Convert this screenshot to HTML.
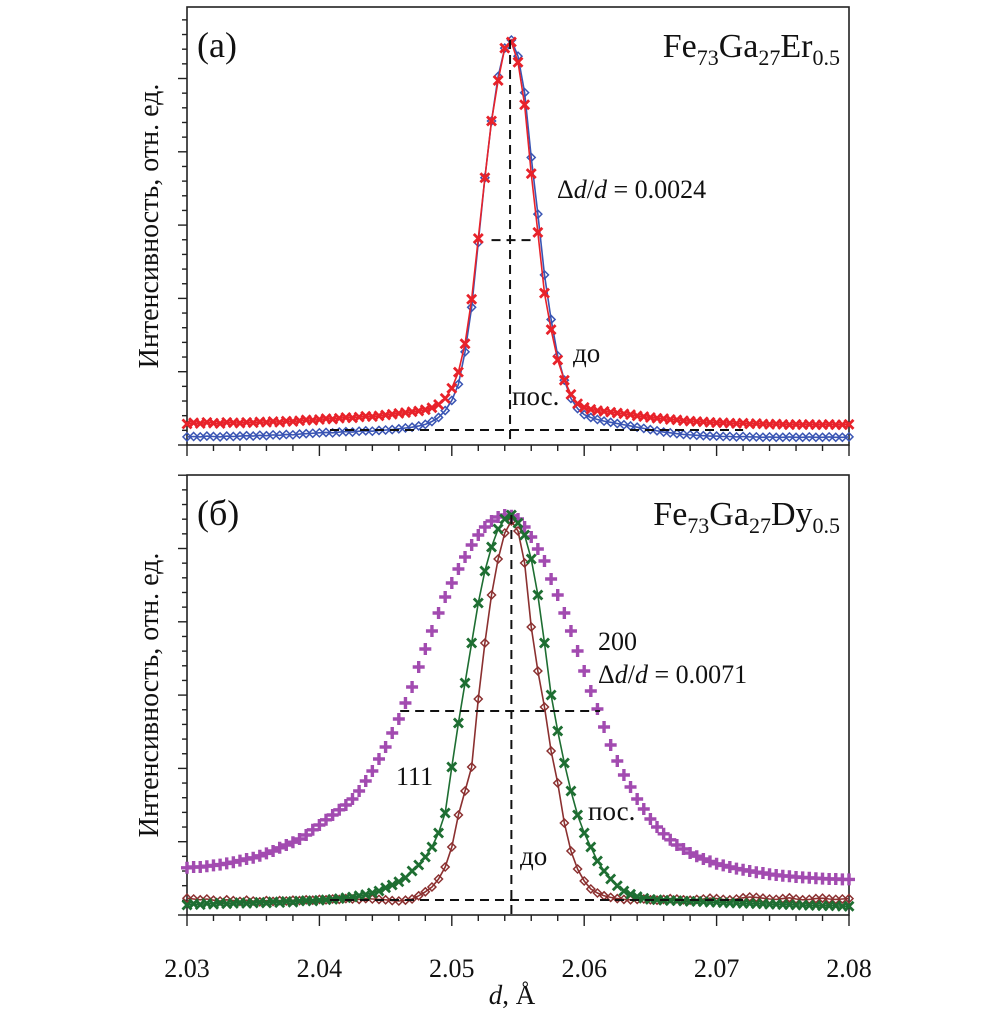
<!DOCTYPE html>
<html><head><meta charset="utf-8">
<style>
html,body{margin:0;padding:0;background:#fff;}
svg{display:block;font-family:"Liberation Serif","Times New Roman",Times,"DejaVu Serif",serif;}
svg text, svg tspan{font-family:"Liberation Serif","Times New Roman",Times,"DejaVu Serif",serif !important;}
</style></head>
<body>
<svg id="chart" width="1004" height="1014" viewBox="0 0 1004 1014" xmlns="http://www.w3.org/2000/svg"></svg>
<script>
// ---- data ----
const dStart = 2.030, dStep = 0.0005;
const xTicks = [2.03, 2.04, 2.05, 2.06, 2.07, 2.08];
const xTickLabels = ["2.03", "2.04", "2.05", "2.06", "2.07", "2.08"];
// panel (a) Fe73Ga27Er0.5
const erAfter = [5.2,5.5,5.3,5.6,5.4,5.3,5.6,5.5,5.4,5.6, 5.5,5.7,5.6,5.8,5.6,5.9,5.8,6.0,6.2,6.1, 6.3,6.5,6.4,6.6,6.8,6.7,6.9,7.1,7.0,7.2, 7.4,7.6,7.8,8.0,8.2,8.4,8.7,9.2,10.0,11.5, 14,18,25,36,51,66,80,90,98,99.5, 94.5,84,67,52.5,37.5,28.5,21,16,12.5,10.2, 9.3,8.8,8.5,8.3,8.1,7.9,7.7,7.5,7.2,7.0, 6.8,6.6,6.5,6.3,6.2,6.0,5.9,5.8,5.7,5.6, 5.5,5.5,5.4,5.3,5.4,5.2,5.3,5.2,5.1,5.2, 5.1,5.0,5.1,5.0,5.1,5.0,5.0,5.1,5.0,5.0,5.1];
const erBefore = [2.0,2.1,2.0,2.2,2.1,2.0,2.2,2.1,2.2,2.3, 2.2,2.4,2.3,2.5,2.4,2.6,2.5,2.7,2.8,2.9, 3.0,3.1,3.0,3.2,3.3,3.2,3.4,3.5,3.4,3.6, 3.7,3.8,4.0,4.2,4.4,4.7,5.1,5.8,6.8,8.5, 11,15,23,34,50,66,80,91,98,100, 96,87,71,57,42,31,22,16,11.5,9, 7.5,6.8,6.3,5.9,5.6,5.3,5.0,4.7,4.4,4.1, 3.8,3.5,3.2,3.0,2.8,2.6,2.5,2.4,2.3,2.2, 2.2,2.1,2.1,2.0,2.1,2.0,2.0,1.9,2.0,1.9, 1.9,2.0,1.9,1.9,2.0,1.9,1.9,2.0,1.9,1.9,2.0];
// panel (б) Fe73Ga27Dy0.5
const dy200 = [11.8,12,12,12.2,12.4,12.6,12.9,13.2,13.6,14, 14.3,14.8,15.4,16,16.8,17.5,18.2,19,20,21.3, 22.5,23.8,25,26.3,27.5,29,31,33.5,36,39, 42,45.5,49,53,57,62,66.5,71,75.5,79.5, 83,86.5,89.5,92.5,95,97,98.5,99.5,100,99.8, 99,97,94.5,91.5,88.5,84,80,75.5,71,66, 61,56,51.5,47,42.5,38.5,35,32,29,26.5, 24,22,20.3,18.8,17.5,16.5,15.5,14.7,14,13.4, 12.8,12.4,12,11.6,11.3,11,10.7,10.5,10.2,10, 9.8,9.7,9.5,9.4,9.3,9.2,9.1,9,9,8.9,8.9];
const dy111After = [2.5,2.8,2.6,2.9,2.7,3.0,2.8,2.9,3.1,2.9, 3.0,3.2,3.0,3.3,3.1,3.4,3.2,3.5,3.6,3.5, 3.7,3.8,3.9,4.1,4.3,4.5,4.8,5.1,5.5,6.0, 6.8,7.5,8.3,9.3,11,12.5,14.5,17,20.5,25.5, 37,48,58,68,78,86,92,96.5,99,100, 98,95,89,80,68,55,46,38,31,25, 20.5,17,13.5,11,9,7.3,6,5.2,4.6,4.2, 3.9,3.8,3.7,3.6,3.6,3.5,3.4,3.4,3.3,3.2, 3.2,3.1,3.0,3.0,2.9,2.9,2.8,2.8,2.7,2.7, 2.6,2.6,2.5,2.5,2.4,2.4,2.3,2.3,2.3,2.2,2.2];
const dy111Before = [4.2,4.0,3.8,4.0,3.7,3.5,3.8,3.6,3.4,3.7, 3.5,3.3,3.6,3.4,3.6,3.5,3.7,3.6,3.8,3.7, 3.9,3.8,4.0,3.9,4.1,4.0,3.9,4.1,4.0,3.9, 3.8,3.6,3.5,3.7,4.0,4.8,5.8,7.0,9.0,12, 17,25,31,37,54,68,80,89,95.5,98.5, 96,88,72,61,52,41,33,23,16,11.5, 8.5,6.5,5.5,4.8,4.4,4.1,3.9,3.8,3.9,4.0, 3.8,3.7,3.9,4.1,4.0,3.8,3.7,3.9,4.0,4.2, 4.1,3.9,3.8,4.0,4.3,4.5,4.4,4.2,4.0,3.9, 4.1,4.3,4.0,3.8,3.9,4.1,4.2,4.0,3.9,4.0,4.1];

// ---- geometry ----
const svg = document.getElementById('chart');
const NS = 'http://www.w3.org/2000/svg';
const FONT = 'Liberation Serif, Times New Roman, DejaVu Serif, serif';
const X0 = 187, X1 = 849;
const xScale = d => X0 + (d - 2.03) / 0.05 * (X1 - X0);
const panels = [
  {top: 7, bottom: 445, peakY: 40, name: 'panel-a'},
  {top: 475, bottom: 915, peakY: 515, name: 'panel-b'}
];
function yScaleFor(p){ return v => p.bottom - v * (p.bottom - p.peakY) / 100; }

function el(tag, attrs, parent){
  const e = document.createElementNS(NS, tag);
  for (const k in attrs) e.setAttribute(k, attrs[k]);
  (parent || svg).appendChild(e);
  return e;
}

panels.forEach((p) => {
  const g = el('g', {});
  
  
  el('rect', {x: X0, y: p.top, width: X1 - X0, height: p.bottom - p.top, fill: 'none', stroke: '#222', 'stroke-width': 1.6}, g);
  for (let i = 0; i <= 30; i++) {
    const y = p.bottom - i * 14.66;
    if (y < p.top) break;
    const major = i % 5 === 0;
    el('line', {x1: X0 - (major ? 9 : 5), x2: X0, y1: y, y2: y, stroke: '#222', 'stroke-width': 1.4}, g);
  }
  for (let i = 0; i <= 25; i++) {
    const x = xScale(2.03 + i * 0.002);
    const major = i % 5 === 0;
    el('line', {x1: x, x2: x, y1: p.bottom, y2: p.bottom + (major ? 11 : 6), stroke: '#222', 'stroke-width': 1.4}, g);
  }
});

xTicks.forEach((t, i) => {
  const tx = el('text', {x: xScale(t), y: 977, 'font-size': 26, 'text-anchor': 'middle', fill: '#111', 'font-family': FONT});
  
  
  tx.textContent = xTickLabels[i];
});
const xt = el('text', {x: 512, y: 1004, 'font-size': 27, 'text-anchor': 'middle', fill: '#111', 'font-family': FONT});


xt.innerHTML = '<tspan font-style="italic">d</tspan>, Å';

[226, 695].forEach(cy => {
  const t = el('text', {x: 0, y: 0, 'font-size': 28, 'text-anchor': 'middle', fill: '#111', 'font-family': FONT, transform: 'translate(158,' + cy + ') rotate(-90)'});
  
  
  t.textContent = 'Интенсивность, отн. ед.';
});

function marker(g, type, x, y, color){
  if (type === 'x') {
    const s = 4.5;
    el('path', {d: `M${x-s},${y-s}L${x+s},${y+s}M${x-s},${y+s}L${x+s},${y-s}`, stroke: color, 'stroke-width': 2.8, fill: 'none'}, g);
  } else if (type === '+') {
    const s = 6;
    el('path', {d: `M${x-s},${y}L${x+s},${y}M${x},${y-s}L${x},${y+s}`, stroke: color, 'stroke-width': 3.4, fill: 'none'}, g);
  } else {
    const s = 4;
    el('path', {d: `M${x},${y-s}L${x+s},${y}L${x},${y+s}L${x-s},${y}Z`, stroke: color, 'stroke-width': 1.5, fill: 'none'}, g);
  }
}
function series(p, vals, color, type, line, name){
  const ys = yScaleFor(p);
  const g = el('g', {});
  
  
  const pts = vals.map((v, i) => [xScale(dStart + i * dStep), ys(v)]);
  if (line) el('polyline', {points: pts.map(q => q.join(',')).join(' '), fill: 'none', stroke: color, 'stroke-width': 1.6}, g);
  pts.forEach(q => marker(g, type, q[0], q[1], color));
}

function dashed(x1, y1, x2, y2, name){
  const l = el('line', {x1, y1, x2, y2, stroke: '#111', 'stroke-width': 2, 'stroke-dasharray': '9,6'});
  
  
}

const pa = panels[0], ya = yScaleFor(pa);
series(pa, erBefore, '#3a55b4', 'd', true, 'series-er-before');
series(pa, erAfter, '#e8222a', 'x', true, 'series-er-after');
dashed(xScale(2.0544), ya(100), xScale(2.0544), pa.bottom, 'peak-center-line-a');
dashed(xScale(2.0408), ya(3.7), xScale(2.0720), ya(3.7), 'baseline-a');
dashed(xScale(2.0530), ya(50.6), xScale(2.0563), ya(50.6), 'half-max-line-a');

const pb = panels[1], yb = yScaleFor(pb);
series(pb, dy200, '#a24bb0', '+', false, 'series-dy-200');
series(pb, dy111Before, '#8b3030', 'd', true, 'series-dy-111-before');
series(pb, dy111After, '#1e6e32', 'x', true, 'series-dy-111-after');
dashed(xScale(2.0545), yb(100), xScale(2.0545), pb.bottom, 'peak-center-line-b');
dashed(xScale(2.0408), yb(3.75), xScale(2.0720), yb(3.75), 'baseline-b');
dashed(xScale(2.0461), yb(51), xScale(2.0612), yb(51), 'half-max-line-b');

function txt(x, y, size, html, name, anchor){
  const t = el('text', {x, y, 'font-size': size, fill: '#111', 'text-anchor': anchor || 'start', 'font-family': FONT});
  
  
  t.innerHTML = html;
}
txt(197, 57, 36, '(a)', 'panel-label-a');
txt(840, 57, 34, 'Fe<tspan font-size="22" dy="8">73</tspan><tspan dy="-8">Ga</tspan><tspan font-size="22" dy="8">27</tspan><tspan dy="-8">Er</tspan><tspan font-size="22" dy="8">0.5</tspan>', 'composition-a', 'end');
txt(557, 198, 26, 'Δ<tspan font-style="italic">d</tspan>/<tspan font-style="italic">d</tspan> = 0.0024', 'fwhm-label-a');
txt(573, 362, 27, 'до', 'label-before-a');
txt(512, 405, 27, 'пос.', 'label-after-a');
txt(197, 525, 36, '(б)', 'panel-label-b');
txt(840, 525, 34, 'Fe<tspan font-size="22" dy="8">73</tspan><tspan dy="-8">Ga</tspan><tspan font-size="22" dy="8">27</tspan><tspan dy="-8">Dy</tspan><tspan font-size="22" dy="8">0.5</tspan>', 'composition-b', 'end');
txt(598, 650, 26, '200', 'label-200');
txt(598, 683, 26, 'Δ<tspan font-style="italic">d</tspan>/<tspan font-style="italic">d</tspan> = 0.0071', 'fwhm-label-b');
txt(396, 785, 26, '111', 'label-111');
txt(588, 820, 27, 'пос.', 'label-after-b');
txt(520, 865, 27, 'до', 'label-before-b');
</script>
</body></html>
